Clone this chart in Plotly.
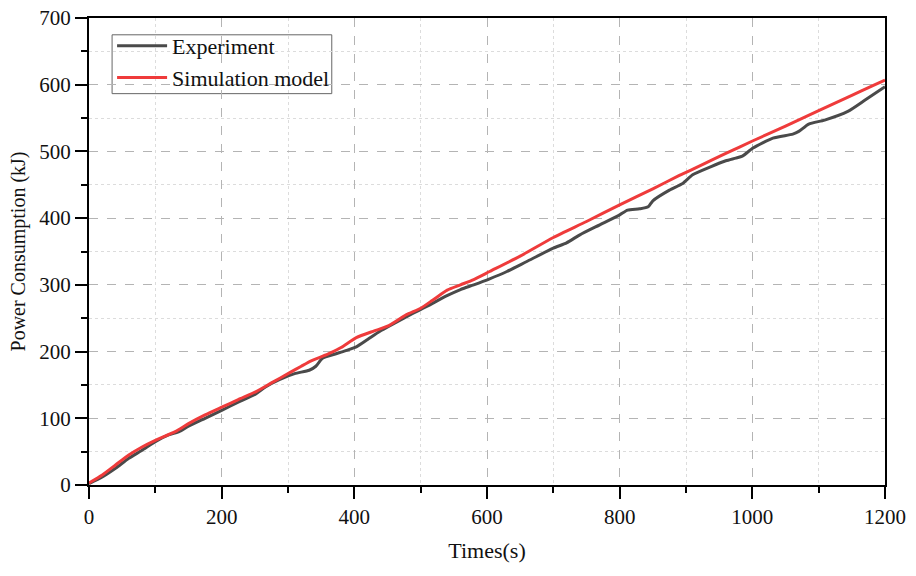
import plotly.graph_objects as go

# Experiment measurement (time in s, energy in kJ)
exp_time = [0, 20, 40, 60, 80, 100, 120, 136, 150, 175, 200, 225, 252, 266, 287,
            310, 332, 342, 352, 370, 386, 403, 420, 438, 460, 488, 510, 538, 560,
            580, 604, 630, 660, 700, 720, 740, 770, 800, 812, 830, 843, 850, 875,
            895, 910, 937, 960, 975, 985, 1001, 1031, 1061, 1070, 1085, 1109,
            1144, 1170, 1200]
exp_power = [2, 12, 25, 40, 52, 65, 75, 80, 88, 100, 112, 124, 137, 147, 158,
             167, 172, 178, 190, 196, 201, 207, 218, 230, 242, 257, 268, 283, 293,
             300, 309, 320, 335, 355, 363, 375, 390, 405, 412, 414, 417, 426, 442,
             452, 465, 477, 486, 490, 493, 505, 520, 526, 530, 541, 547,
             560, 577, 597]

# Simulation model output
sim_time = [0, 20, 40, 60, 80, 100, 130, 150, 175, 201, 225, 252, 275, 302, 320,
            335, 360, 380, 403, 430, 450, 478, 500, 518, 540, 560, 580, 604, 650,
            700, 750, 800, 850, 890, 920, 960, 1001, 1050, 1100, 1150, 1180, 1200]
sim_power = [3, 15, 30, 45, 57, 67, 80, 92, 105, 117, 128, 140, 153, 168, 178,
             186, 196, 206, 221, 231, 238, 255, 265, 277, 292, 300, 308, 320, 343,
             371, 395, 420, 444, 464, 478, 497, 516, 538, 561, 584, 598, 607]

serif = "Liberation Serif, Times New Roman, serif"
ink = '#111'

fig = go.Figure()

fig.add_trace(go.Scatter(
    x=exp_time, y=exp_power, name='Experiment', mode='lines',
    line=dict(color='#4a4a4a', width=3, shape='spline', smoothing=0.6)
))
fig.add_trace(go.Scatter(
    x=sim_time, y=sim_power, name='Simulation model', mode='lines',
    line=dict(color='#ef3b3b', width=3, shape='spline', smoothing=0.6)
))

axis_common = dict(
    showline=True, linecolor='black', linewidth=2, mirror=True,
    ticks='outside', ticklen=12, tickwidth=2, tickcolor='black',
    showgrid=True, gridcolor='#b4b4b4', gridwidth=1, griddash='dash',
    zeroline=False, automargin=False, ticklabeloverflow='allow',
    tickfont=dict(family=serif, size=21, color=ink),
)

fig.update_xaxes(
    range=[0, 1200], dtick=200, tick0=0,
    title=dict(text='Times(s)', font=dict(family=serif, size=22, color=ink), standoff=14),
    minor=dict(dtick=100, ticklen=6, tickwidth=2, tickcolor='black', ticks='outside',
               showgrid=True, gridcolor='#dcdcdc', griddash='dot', gridwidth=1),
    **axis_common
)
fig.update_yaxes(
    range=[0, 700], dtick=100, tick0=0,
    title=dict(text='Power Consumption (kJ)', font=dict(family=serif, size=20, color=ink), standoff=8),
    minor=dict(dtick=50, ticklen=6, tickwidth=2, tickcolor='black', ticks='outside',
               showgrid=True, gridcolor='#dcdcdc', griddash='dot', gridwidth=1),
    **axis_common
)

# legend frame drawn as a shape so it can be tighter than plotly's own box
fig.add_shape(type='rect', xref='paper', yref='paper',
              x0=0.029, x1=0.305, y0=0.838, y1=0.964,
              fillcolor='white', line=dict(color='#666', width=1), layer='between')

fig.update_layout(
    width=916, height=576,
    margin=dict(l=89, r=31, t=18, b=91),
    plot_bgcolor='white', paper_bgcolor='white',
    font=dict(family=serif, color=ink),
    legend=dict(
        x=0.029, y=0.985, xanchor='left', yanchor='top',
        bgcolor='rgba(0,0,0,0)', borderwidth=0,
        font=dict(family=serif, size=22, color=ink),
        itemwidth=50, tracegroupgap=0,
    ),
    showlegend=True,
)

# drop the default 8px page margin so the figure fills the window
fig.write_html("out.html", config={'displayModeBar': False},
               post_script="document.body.style.margin='0';")
